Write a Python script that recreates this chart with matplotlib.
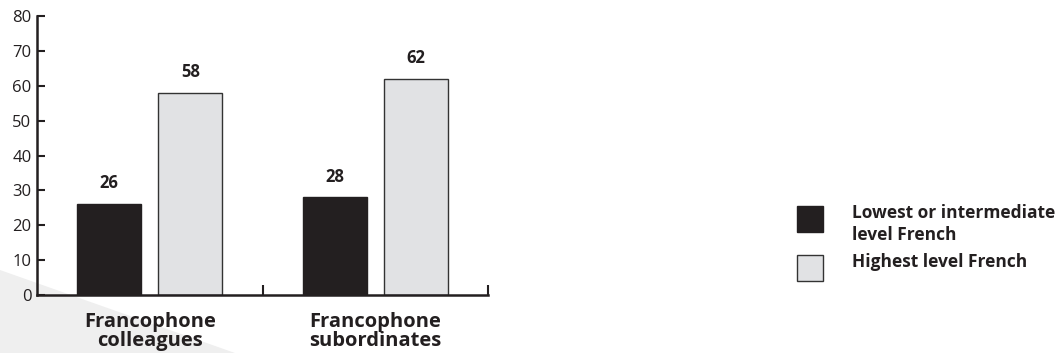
import numpy as np
import matplotlib
matplotlib.use('Agg')
from matplotlib import pyplot as plt
from matplotlib.patches import Rectangle, Polygon

categories = [['Francophone', 'colleagues'], ['Francophone', 'subordinates']]
series_names = [['Lowest or intermediate', 'level French'], ['Highest level French']]
lowest_intermediate = [26, 28]
highest = [58, 62]
yticks = [0, 10, 20, 30, 40, 50, 60, 70, 80]

dark = '#231f20'
light = '#e1e2e4'
W, H = 1057, 353

plt.rcParams['font.family'] = ['Open Sans', 'DejaVu Sans']

fig = plt.figure(figsize=(W / 100, H / 100), dpi=100)


def fx(px):
    return px / W


def fy(py):
    return 1 - py / H


# faint grey wedge in the lower-left corner
wedge = Polygon([(0, 0), (0, fy(270)), (fx(235), 0)], closed=True,
                transform=fig.transFigure, facecolor='#efefef', edgecolor='none', zorder=-5)
fig.patches.append(wedge)

ax = fig.add_axes([fx(37), fy(295), fx(488) - fx(37), fy(16) - fy(295)])
ax.patch.set_alpha(0)

x = np.arange(len(categories))
w = 0.284
off = 0.18
b1 = ax.bar(x - off, lowest_intermediate, w, color=dark, edgecolor=dark, linewidth=1)
b2 = ax.bar(x + off, highest, w, color=light, edgecolor='#333333', linewidth=1)

for bars, vals in [(b1, lowest_intermediate), (b2, highest)]:
    for r, v in zip(bars, vals):
        ax.annotate(f'{v}', xy=(r.get_x() + r.get_width() / 2, v), xytext=(0, 15),
                    textcoords='offset points', ha='center', va='center',
                    fontsize=12, fontweight='bold', color=dark)

ax.set_xlim(-0.5, 1.5)
ax.set_ylim(0, 80)
ax.set_yticks(yticks)
ax.tick_params(axis='y', direction='in', length=6, width=1.5, labelsize=12,
               colors=dark, pad=4)
ax.set_xticks([0.5, 1.5])
ax.set_xticklabels([])
ax.tick_params(axis='x', direction='in', length=7, width=1.5, colors=dark)
for s in ['top', 'right']:
    ax.spines[s].set_visible(False)
for s in ['left', 'bottom']:
    ax.spines[s].set_linewidth(1.8)
    ax.spines[s].set_color(dark)

# category names, one line at a time so the spacing stays tight
for xi, lines in zip(x, categories):
    cx = ax.transData.transform((xi, 0))[0] / W
    for line, base in zip(lines, [327, 346]):
        fig.text(cx, fy(base), line, ha='center', va='baseline', fontsize=14.5,
                 fontweight='bold', color=dark)

# legend drawn by hand on the right
entries = [(206, dark, dark, series_names[0], 218),
           (255, light, '#333333', series_names[1], 267)]
for y_top, color, ec, lines, base in entries:
    fig.patches.append(Rectangle((fx(797), fy(y_top + 26)), 26 / W, 26 / H,
                                 transform=fig.transFigure, facecolor=color,
                                 edgecolor=ec, linewidth=1))
    for i, line in enumerate(lines):
        fig.text(fx(852), fy(base + 22 * i), line, ha='left', va='baseline',
                 fontsize=12.5, fontweight='bold', color=dark)

fig.savefig('out.png', dpi=100)
